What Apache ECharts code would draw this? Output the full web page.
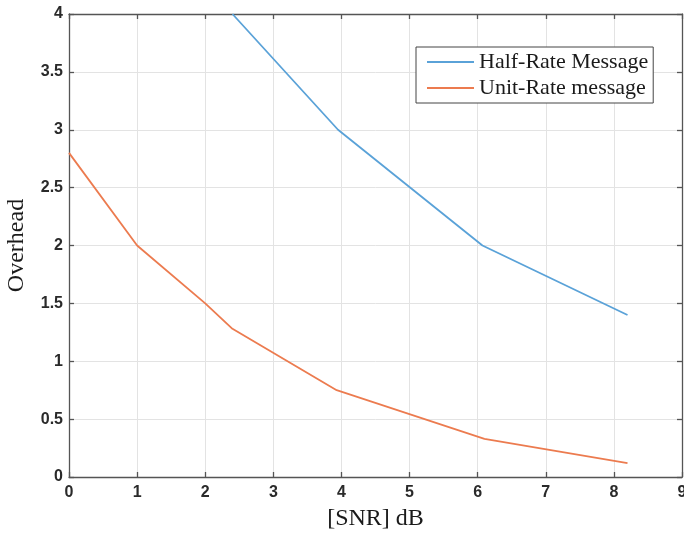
<!DOCTYPE html>
<html>
<head>
<meta charset="utf-8">
<script src="https://cdn.jsdelivr.net/npm/echarts@6/dist/echarts.min.js"></script>
<style>
  html, body { margin: 0; padding: 0; background: #fff; }
  #chart { width: 684px; height: 538px; }
</style>
</head>
<body>
<div id="chart"></div>
<script>
// SNR (dB) sample points and overhead for each message rate
const halfRateSnr = [2.4, 3.95, 6.07, 8.2];
const halfRateOverhead = [4.0, 3.0, 2.0, 1.4];
const unitRateSnr = [0, 1, 2, 2.4, 3.93, 6.1, 8.2];
const unitRateOverhead = [2.8, 2.0, 1.5, 1.28, 0.75, 0.33, 0.12];

const seriesNames = ['Half-Rate Message', 'Unit-Rate message'];
const xTicks = { min: 0, max: 9, interval: 1 };
const yTicks = { min: 0, max: 4, interval: 0.5 };

const pairs = (xs, ys) => xs.map((x, i) => [x, ys[i]]);

const serif = 'Liberation Serif, Times New Roman, serif';
const tickFont = () => ({ fontFamily: 'Liberation Sans, Arial, sans-serif', fontSize: 16, fontWeight: 'bold', color: '#2a2a2a' });
const axisLine = () => ({ show: true, onZero: false, lineStyle: { color: '#555', width: 1.3 } });
const innerTicks = () => ({ show: true, inside: true, length: 5, lineStyle: { color: '#555', width: 1.3 } });
const grid = () => ({ show: true, lineStyle: { color: '#e3e3e3', width: 1 } });

const chart = echarts.init(document.getElementById('chart'), null, { renderer: 'canvas' });
chart.setOption({
  animation: false,
  backgroundColor: '#fff',
  grid: { left: 69, right: 2, top: 14, bottom: 61, containLabel: false, outerBoundsMode: 'none' },
  legend: {
    orient: 'vertical',
    left: 416,
    top: 47,
    data: seriesNames,
    itemWidth: 47,
    itemHeight: 22,
    itemGap: 4,
    padding: [4, 5, 4, 10],
    borderColor: '#444',
    borderWidth: 1,
    backgroundColor: '#fff',
    itemStyle: { opacity: 0 },
    textStyle: { fontFamily: serif, fontSize: 22, color: '#1a1a1a' }
  },
  xAxis: [
    {
      type: 'value',
      position: 'bottom',
      min: xTicks.min, max: xTicks.max, interval: xTicks.interval,
      name: '[SNR] dB',
      nameLocation: 'middle',
      nameGap: 30,
      nameTextStyle: { fontFamily: serif, fontSize: 24, color: '#1a1a1a' },
      axisLine: axisLine(),
      axisTick: innerTicks(),
      axisLabel: Object.assign({ margin: 8 }, tickFont()),
      splitLine: grid()
    },
    {
      type: 'value',
      position: 'top',
      min: xTicks.min, max: xTicks.max, interval: xTicks.interval,
      axisLine: axisLine(),
      axisTick: innerTicks(),
      axisLabel: { show: false },
      splitLine: { show: false }
    }
  ],
  yAxis: [
    {
      type: 'value',
      position: 'left',
      min: yTicks.min, max: yTicks.max, interval: yTicks.interval,
      name: 'Overhead',
      nameLocation: 'middle',
      nameGap: 40,
      nameTextStyle: { fontFamily: serif, fontSize: 24, color: '#1a1a1a' },
      axisLine: axisLine(),
      axisTick: innerTicks(),
      axisLabel: Object.assign({ margin: 6 }, tickFont()),
      splitLine: grid()
    },
    {
      type: 'value',
      position: 'right',
      min: yTicks.min, max: yTicks.max, interval: yTicks.interval,
      axisLine: axisLine(),
      axisTick: innerTicks(),
      axisLabel: { show: false },
      splitLine: { show: false }
    }
  ],
  series: [
    {
      name: seriesNames[0],
      type: 'line',
      data: pairs(halfRateSnr, halfRateOverhead),
      symbol: 'none',
      color: '#5aa2d8',
      lineStyle: { color: '#5aa2d8', width: 1.8 }
    },
    {
      name: seriesNames[1],
      type: 'line',
      data: pairs(unitRateSnr, unitRateOverhead),
      symbol: 'none',
      color: '#ec7b4f',
      lineStyle: { color: '#ec7b4f', width: 1.8 }
    }
  ]
});
</script>
</body>
</html>
